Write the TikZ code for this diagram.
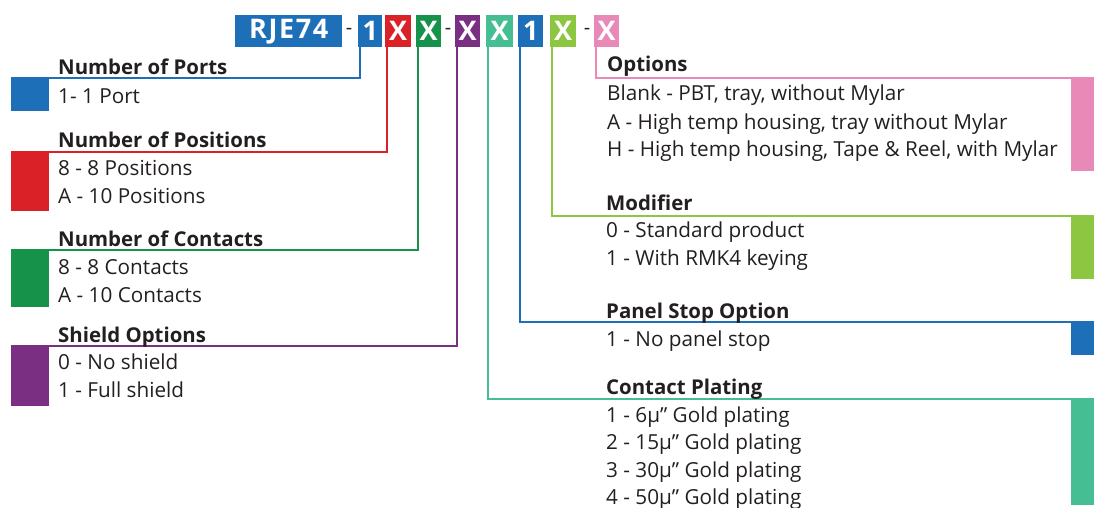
\documentclass[tikz,border=0pt]{standalone}
\usepackage{fontspec}
\setmainfont{Open Sans}
\definecolor{cBlue}{HTML}{1D6FB8}
\definecolor{cRed}{HTML}{DB2128}
\definecolor{cGreen}{HTML}{16924A}
\definecolor{cPurple}{HTML}{7B2F82}
\definecolor{cTeal}{HTML}{46BE93}
\definecolor{cLGreen}{HTML}{8DC641}
\definecolor{cPink}{HTML}{E889B8}
\definecolor{ink}{HTML}{231F20}
\tikzset{
  hdr/.style={rectangle, anchor=north west, inner sep=0pt, minimum height=32, text=white,
    font=\fontsize{27}{27}\selectfont\bfseries},
  hyph/.style={anchor=center, inner sep=0pt, text=ink, font=\fontsize{20}{20}\selectfont},
  swatch/.style={rectangle, inner sep=0pt, draw=none},
  title/.style={anchor=base west, inner sep=0pt, text=ink, font=\fontsize{20.4}{24}\selectfont\bfseries},
  item/.style={anchor=base west, inner sep=0pt, text=ink, font=\fontsize{20.7}{24}\selectfont},
  lead/.style={line width=2pt}
}
\begin{document}
\begin{tikzpicture}[x=1pt,y=-1pt]
\useasboundingbox (0,0) rectangle (1094,508);
% header code
\node[hdr, fill=cBlue, minimum width=107] (rje) at (235,15) {\addfontfeature{LetterSpace=6}RJE74};
\node[hyph] (h1) at (349,31) {-};
\node[hdr, fill=cBlue,   minimum width=24] (d1) at (358,15) {1};
\node[hdr, fill=cRed,    minimum width=26] (d2) at (385,15) {X};
\node[hdr, fill=cGreen,  minimum width=25] (d3) at (416,15) {X};
\node[hyph] (h2) at (448,31) {-};
\node[hdr, fill=cPurple, minimum width=25] (d4) at (455,15) {X};
\node[hdr, fill=cTeal,   minimum width=27] (d5) at (486,15) {X};
\node[hdr, fill=cBlue,   minimum width=25] (d6) at (518,15) {1};
\node[hdr, fill=cLGreen, minimum width=26] (d7) at (550,15) {X};
\node[hyph] (h3) at (587,31) {-};
\node[hdr, fill=cPink,   minimum width=25] (d8) at (594,15) {X};
% left swatches
\node[swatch, fill=cBlue,   anchor=north west, minimum width=38, minimum height=33] (s1) at (11,78) {};
\node[swatch, fill=cRed,    anchor=north west, minimum width=38, minimum height=59] (s2) at (11,152) {};
\node[swatch, fill=cGreen,  anchor=north west, minimum width=38, minimum height=57] (s3) at (11,250) {};
\node[swatch, fill=cPurple, anchor=north west, minimum width=38, minimum height=60] (s4) at (11,346) {};
% right swatches
\node[swatch, fill=cPink,   anchor=north east, minimum width=23, minimum height=93] (s8) at (1094,78) {};
\node[swatch, fill=cLGreen, anchor=north east, minimum width=23, minimum height=63] (s7) at (1094,216) {};
\node[swatch, fill=cBlue,   anchor=north east, minimum width=23, minimum height=33] (s6) at (1094,322) {};
\node[swatch, fill=cTeal,   anchor=north east, minimum width=23, minimum height=106] (s5) at (1094,399) {};
% leaders
\draw[lead, cBlue]   ([xshift=2pt]d1.south west) |- (s1.north west);
\draw[lead, cRed]    ([xshift=2pt]d2.south west) |- (s2.north west);
\draw[lead, cGreen]  ([xshift=2pt]d3.south west) |- (s3.north west);
\draw[lead, cPurple] ([xshift=2pt]d4.south west) |- (s4.north west);
\draw[lead, cTeal]   ([xshift=2pt]d5.south west) |- (s5.north east);
\draw[lead, cBlue]   ([xshift=2pt]d6.south west) |- (s6.north east);
\draw[lead, cLGreen] ([xshift=2pt]d7.south west) |- (s7.north east);
\draw[lead, cPink]   ([xshift=2pt]d8.south west) |- (s8.north east);
% left texts
\node[title] (t1) at (58,75) {Number of Ports};
\node[item] (t1a) at (58,103) {1- 1 Port};
\node[title] (t2) at (58,147) {Number of Positions};
\node[item] (t2a) at (58,175) {8 - 8 Positions};
\node[item] (t2b) at (58,203) {A - 10 Positions};
\node[title] (t3) at (58,246) {Number of Contacts};
\node[item] (t3a) at (58,274) {8 - 8 Contacts};
\node[item] (t3b) at (58,302) {A - 10 Contacts};
\node[title] (t4) at (58,342) {Shield Options};
\node[item] (t4a) at (58,369) {0 - No shield};
\node[item] (t4b) at (58,397) {1 - Full shield};
% right texts
\node[title] (t8) at (607,72) {Options};
\node[item] (t8a) at (607,101) {Blank - PBT, tray, without Mylar};
\node[item] (t8b) at (607,129) {A - High temp housing, tray without Mylar};
\node[item] (t8c) at (607,157) {H - High temp housing, Tape \& Reel, with Mylar};
\node[title] (t7) at (606,210) {Modifier};
\node[item] (t7a) at (606,237) {0 - Standard product};
\node[item] (t7b) at (606,265) {1 - With RMK4 keying};
\node[title] (t6) at (606,318) {Panel Stop Option};
\node[item] (t6a) at (606,346) {1 - No panel stop};
\node[title] (t5) at (606,394) {Contact Plating};
\node[item] (t5a) at (606,422) {1 - 6µ” Gold plating};
\node[item] (t5b) at (606,449) {2 - 15µ” Gold plating};
\node[item] (t5c) at (606,477) {3 - 30µ” Gold plating};
\node[item] (t5d) at (606,504) {4 - 50µ” Gold plating};
\end{tikzpicture}
\end{document}
